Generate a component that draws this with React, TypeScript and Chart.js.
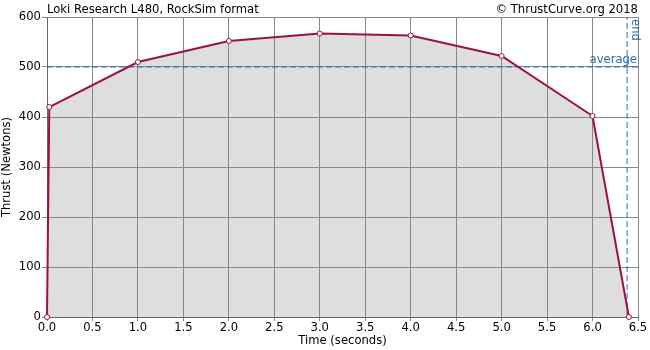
import React, { useEffect, useRef } from "react";
import { Chart, registerables } from "chart.js";

Chart.register(...registerables);

const TITLE = "Loki Research L480, RockSim format";
const CREDIT = "\u00a9 ThrustCurve.org 2018";
const timeValues = [0, 0.025, 1.0, 2.0, 3.0, 4.0, 5.0, 6.0, 6.4];
const thrustValues = [0, 420, 510, 552, 567, 563, 522, 402, 0];
const averageThrust = 500;
const burnEnd = 6.38;
const xMin = 0;
const xMax = 6.5;
const yMin = 0;
const yMax = 600;

const FONT = "'DejaVu Sans', sans-serif";
const FS = 11.6;
const BLUE = "#2a6fa8";
const CURVE = "#9c1045";

const labelsPlugin = {
  id: "labels",
  afterDraw(chart: any) {
    const { ctx, chartArea, scales } = chart;
    ctx.save();
    ctx.font = FS + "px " + FONT;
    ctx.fillStyle = "#000";
    ctx.textBaseline = "alphabetic";
    ctx.textAlign = "left";
    ctx.fillText(TITLE, chartArea.left, 13);
    ctx.textAlign = "right";
    ctx.fillText(CREDIT, chartArea.right, 13);
    ctx.fillStyle = BLUE;
    const ya = scales.y.getPixelForValue(averageThrust);
    ctx.fillText("average", chartArea.right - 1, ya - 4);
    const xe = scales.x.getPixelForValue(burnEnd);
    ctx.translate(xe + 2, chartArea.top + 2);
    ctx.rotate(Math.PI / 2);
    ctx.textAlign = "left";
    ctx.textBaseline = "bottom";
    ctx.fillText("end", 0, 0);
    ctx.restore();
  },
};

export default function App() {
  const ref = useRef<HTMLCanvasElement>(null);
  useEffect(() => {
    document.body.style.margin = "0";
    const curve = timeValues.map((t, i) => ({ x: t, y: thrustValues[i] }));
    const chart = new Chart(ref.current!, {
      type: "scatter",
      data: {
        datasets: [
          {
            data: curve,
            showLine: true,
            borderColor: CURVE,
            borderWidth: 2,
            backgroundColor: "#dedede",
            fill: "origin",
            pointRadius: 2.5,
            pointBackgroundColor: "#fff",
            pointBorderColor: CURVE,
            pointBorderWidth: 1,
            clip: false,
            order: 1,
          } as any,
          {
            data: [
              { x: xMin, y: averageThrust },
              { x: xMax, y: averageThrust },
            ],
            showLine: true,
            borderColor: BLUE,
            borderWidth: 1,
            borderDash: [6, 3],
            pointRadius: 0,
            fill: false,
            order: 2,
          },
          {
            data: [
              { x: burnEnd, y: yMin },
              { x: burnEnd, y: yMax },
            ],
            showLine: true,
            borderColor: BLUE,
            borderWidth: 1,
            borderDash: [6, 3],
            pointRadius: 0,
            fill: false,
            order: 2,
          },
        ],
      },
      options: {
        animation: false,
        responsive: false,
        devicePixelRatio: 1,
        layout: { padding: { top: 17, right: 12, left: 0, bottom: 0 } },
        plugins: {
          legend: { display: false },
          tooltip: { enabled: false },
          filler: { drawTime: "beforeDraw" } as any,
        },
        scales: {
          x: {
            type: "linear",
            min: xMin,
            max: xMax,
            ticks: {
              stepSize: 0.5,
              color: "#000",
              font: { family: FONT, size: FS },
              padding: 0,
              maxRotation: 0,
              callback: (v: any) => Number(v).toFixed(1),
            },
            grid: { color: "#888", lineWidth: 1, tickLength: 4 },
            border: { color: "#666" },
            title: {
              display: true,
              text: "Time (seconds)",
              color: "#000",
              font: { family: FONT, size: FS },
              padding: { top: 0, bottom: 2 },
            },
            afterFit: (s: any) => {
              s.height = 33;
            },
          },
          y: {
            min: yMin,
            max: yMax,
            ticks: {
              stepSize: 100,
              color: "#000",
              font: { family: FONT, size: FS },
              padding: 1,
            },
            grid: { color: "#888", lineWidth: 1, tickLength: 5 },
            border: { color: "#666" },
            title: {
              display: true,
              text: "Thrust (Newtons)",
              color: "#000",
              font: { family: FONT, size: FS },
              padding: { top: 0, bottom: 2 },
            },
            afterFit: (s: any) => {
              s.width = 47;
            },
          },
        },
      },
      plugins: [labelsPlugin],
    });
    return () => chart.destroy();
  }, []);
  return (
    <div style={{ width: 650, height: 350, background: "#fff" }}>
      <canvas ref={ref} width={650} height={350} />
    </div>
  );
}
